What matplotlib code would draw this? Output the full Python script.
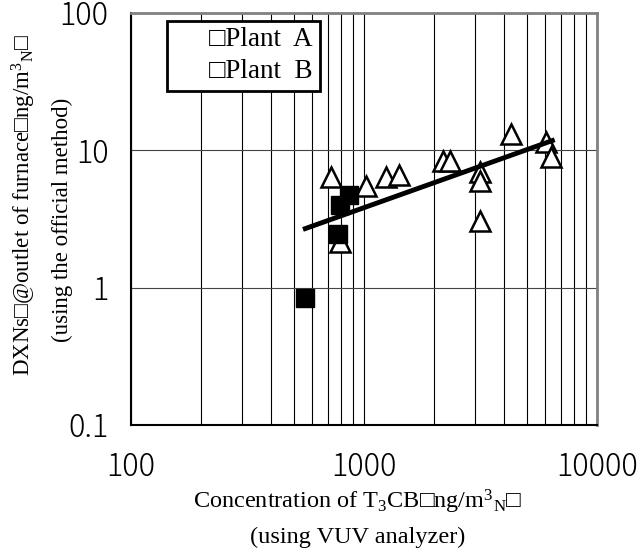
import matplotlib
matplotlib.use('Agg')
import matplotlib.pyplot as plt
from matplotlib.lines import Line2D

plt.rcParams['font.family'] = ['Liberation Serif', 'DejaVu Sans']
plt.rcParams['mathtext.fontset'] = 'custom'
plt.rcParams['mathtext.rm'] = 'Liberation Serif'
plt.rcParams['mathtext.it'] = 'Liberation Serif:italic'

# Plant A (filled squares)
plant_a_x = [558, 865, 789, 778]
plant_a_y = [0.845, 4.70, 3.97, 2.44]

# Plant B (open triangles)
plant_b_x = [727, 1026, 1243, 1419, 2190, 2339, 3168, 3146, 3146, 4305, 6085, 6392, 789]
plant_b_y = [6.35, 5.46, 6.35, 6.57, 8.36, 8.36, 6.95, 5.97, 3.05, 13.1, 11.4, 8.85, 2.15]

# regression line end points
fit_x = [549, 6600]
fit_y = [2.65, 11.9]

plant_names = ['Plant  A', 'Plant  B']
x_ticks = [100, 1000, 10000]
x_tick_labels = ['100', '1000', '10000']
y_ticks = [0.1, 1, 10, 100]
y_tick_labels = ['0.1', '1', '10', '100']

xlabel_1 = 'Concentration of T$_3$CB\u25a1ng/m$^3{}_\\mathrm{N}$\u25a1'
xlabel_2 = '(using VUV analyzer)'
ylabel_1 = 'DXNs\u25a1@outlet of furnace\u25a1ng/m$^3{}_\\mathrm{N}$\u25a1'
ylabel_2 = '(using the official method)'

fig = plt.figure(figsize=(6.39, 5.53), dpi=100)
ax = fig.add_axes([0.2045, 0.2315, 0.7293, 0.7455])

ax.set_xscale('log')
ax.set_yscale('log')
ax.set_xlim(100, 10000)
ax.set_ylim(0.1, 100)

# grid: every decade sub-step on x, decades only on y
ax.grid(True, which='both', axis='x', color='black', lw=0.8)
ax.grid(True, which='major', axis='y', color='#444444', lw=0.8)
ax.set_axisbelow(True)

ax.plot(plant_b_x, plant_b_y, linestyle='none', marker='^', ms=14,
        mfc='white', mec='black', mew=1.8, zorder=3)
ax.plot(plant_a_x, plant_a_y, linestyle='none', marker='s', ms=13.5,
        mfc='black', mec='black', zorder=4)
ax.plot(fit_x, fit_y, color='black', lw=3.5, solid_capstyle='butt', zorder=5)

tick_font = ['Noto Sans CJK JP', 'DejaVu Sans']
ax.set_xticks(x_ticks)
ax.set_xticklabels(x_tick_labels, fontfamily=tick_font, fontweight='light', fontsize=22)
ax.set_yticks(y_ticks)
ax.set_yticklabels(y_tick_labels, fontfamily=tick_font, fontweight='light', fontsize=22)
ax.tick_params(which='both', length=0)
ax.tick_params(axis='x', pad=19)
ax.tick_params(axis='y', pad=16)
ax.minorticks_on()
ax.tick_params(which='minor', length=0, labelbottom=False, labelleft=False)

for side in ['left', 'bottom']:
    ax.spines[side].set_color('black')
    ax.spines[side].set_linewidth(1.5)
for side in ['top', 'right']:
    ax.spines[side].set_color('#808080')
    ax.spines[side].set_linewidth(2)

handles = [Line2D([], [], linestyle='none') for _ in plant_names]
leg = ax.legend(handles, ['\u25a1' + n for n in plant_names], loc='upper left',
                bbox_to_anchor=(0.0785, 0.9806), borderaxespad=0,
                fancybox=False, edgecolor='black', framealpha=1,
                handlelength=1.0, handletextpad=0.3, borderpad=0.25,
                labelspacing=0.25, fontsize=19.5)
leg.get_frame().set_linewidth(2)

fig.text(358 / 639, 1 - 508 / 553, xlabel_1, ha='center', va='baseline', fontsize=17.5)
fig.text(358 / 639, 1 - 543 / 553, xlabel_2, ha='center', va='baseline', fontsize=17.5)
fig.text(24 / 639, 1 - 205 / 553, ylabel_1, ha='center', va='center', rotation=90, fontsize=16.5)
fig.text(62 / 639, 1 - 220 / 553, ylabel_2, ha='center', va='center', rotation=90, fontsize=16.5)

fig.savefig('out.png', dpi=100)
